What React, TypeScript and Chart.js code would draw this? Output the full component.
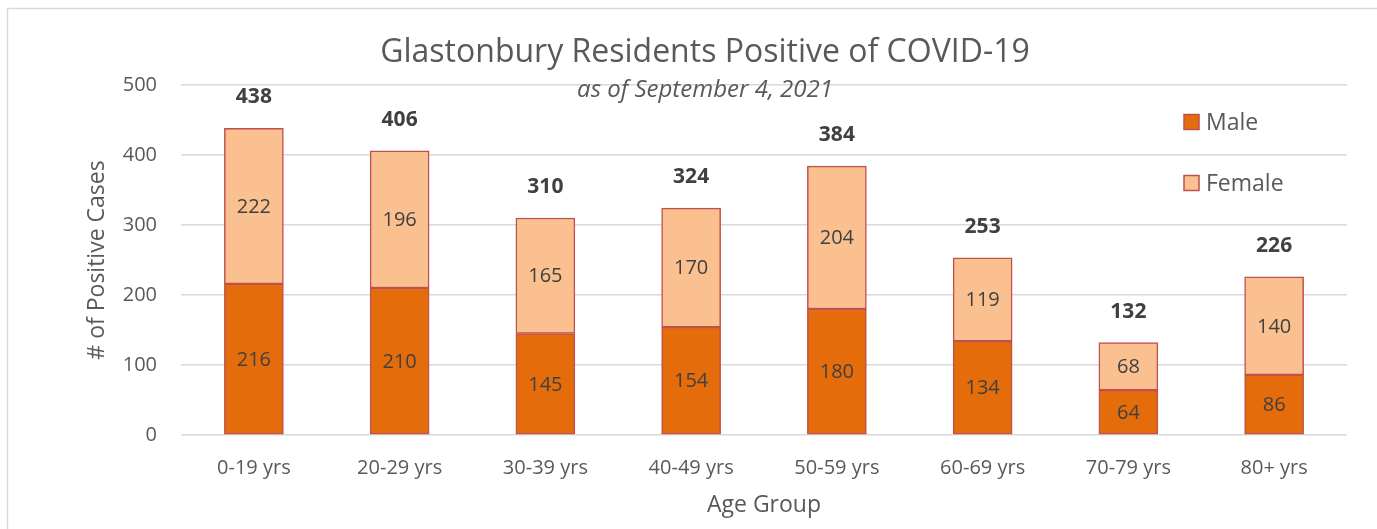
import React, { useEffect, useRef } from "react";
import { Chart, registerables } from "chart.js";

Chart.register(...registerables);

const categories = ["0-19 yrs", "20-29 yrs", "30-39 yrs", "40-49 yrs", "50-59 yrs", "60-69 yrs", "70-79 yrs", "80+ yrs"];
const maleValues = [216, 210, 145, 154, 180, 134, 64, 86];
const femaleValues = [222, 196, 165, 170, 204, 119, 68, 140];
const totalValues = [438, 406, 310, 324, 384, 253, 132, 226];
const yTicks = [0, 100, 200, 300, 400, 500];

const FONT = "'Open Sans', 'DejaVu Sans', sans-serif";
const MALE_COLOR = "#E46C0A";
const FEMALE_COLOR = "#FAC090";
const BORDER_COLOR = "#C0504D";
const TEXT_GREY = "#595959";
const LABEL_DARK = "#404040";

const overlayPlugin = {
  id: "overlay",
  beforeDraw(chart: any) {
    const { ctx } = chart;
    ctx.save();
    ctx.fillStyle = "#ffffff";
    ctx.fillRect(0, 0, chart.width, chart.height);
    ctx.strokeStyle = "#d9d9d9";
    ctx.lineWidth = 1.5;
    ctx.strokeRect(7.5, 8.5, chart.width + 20, chart.height + 20);
    ctx.restore();
  },
  afterDatasetsDraw(chart: any) {
    const { ctx } = chart;
    ctx.save();
    ctx.textAlign = "center";
    ctx.textBaseline = "middle";
    ctx.fillStyle = LABEL_DARK;
    ctx.font = `20px ${FONT}`;
    chart.data.datasets.forEach((ds: any, di: number) => {
      const meta = chart.getDatasetMeta(di);
      meta.data.forEach((el: any, i: number) => {
        const v = ds.data[i];
        const cy = (el.y + el.base) / 2;
        ctx.fillText(String(v), el.x, cy + 1);
      });
    });
    const topMeta = chart.getDatasetMeta(chart.data.datasets.length - 1);
    ctx.font = `bold 21px ${FONT}`;
    topMeta.data.forEach((el: any, i: number) => {
      ctx.fillText(String(totalValues[i]), el.x, el.y - 31);
    });
    ctx.restore();
  },
  afterDraw(chart: any) {
    const { ctx } = chart;
    ctx.save();
    ctx.fillStyle = TEXT_GREY;
    ctx.textAlign = "center";
    ctx.textBaseline = "middle";
    ctx.font = `32px ${FONT}`;
    ctx.fillText("Glastonbury Residents Positive of COVID-19", 705, 53);
    ctx.font = `italic 24px ${FONT}`;
    ctx.fillText("as of September 4, 2021", 705, 90);

    // legend
    const items = [
      { label: "Male", color: MALE_COLOR, y: 122 },
      { label: "Female", color: FEMALE_COLOR, y: 183 },
    ];
    ctx.textAlign = "left";
    ctx.font = `23px ${FONT}`;
    items.forEach((it) => {
      ctx.fillStyle = it.color;
      ctx.fillRect(1184, it.y - 7.5, 15, 15);
      ctx.strokeStyle = BORDER_COLOR;
      ctx.lineWidth = 1.5;
      ctx.strokeRect(1184, it.y - 7.5, 15, 15);
      ctx.fillStyle = TEXT_GREY;
      ctx.fillText(it.label, 1206, it.y + 1);
    });
    ctx.restore();
  },
};

export default function App() {
  const canvasRef = useRef<HTMLCanvasElement | null>(null);

  useEffect(() => {
    document.body.style.margin = "0";
    const canvas = canvasRef.current;
    if (!canvas) return;
    const chart = new Chart(canvas, {
      type: "bar",
      data: {
        labels: categories,
        datasets: [
          {
            label: "Male",
            data: maleValues,
            backgroundColor: MALE_COLOR,
            borderColor: BORDER_COLOR,
            borderWidth: 1.5,
            borderSkipped: false,
            barThickness: 59,
          },
          {
            label: "Female",
            data: femaleValues,
            backgroundColor: FEMALE_COLOR,
            borderColor: BORDER_COLOR,
            borderWidth: 1.5,
            borderSkipped: false,
            barThickness: 59,
          },
        ],
      },
      options: {
        responsive: false,
        animation: false,
        devicePixelRatio: 1,
        layout: { padding: { top: 85, right: 30, left: 0, bottom: 0 } },
        plugins: {
          legend: { display: false },
          title: { display: false },
          tooltip: { enabled: false },
        },
        scales: {
          x: {
            stacked: true,
            grid: { display: false },
            border: { display: false },
            ticks: { color: TEXT_GREY, font: { family: FONT, size: 20 }, padding: 13 },
            title: {
              display: true,
              text: "Age Group",
              color: TEXT_GREY,
              font: { family: FONT, size: 23 },
              padding: { top: 0, bottom: 10 },
            },
            afterFit(scale: any) {
              scale.height = 94;
            },
          },
          y: {
            stacked: true,
            min: 0,
            max: 500,
            afterBuildTicks(scale: any) {
              scale.ticks = yTicks.map((v) => ({ value: v }));
            },
            grid: { color: "#d9d9d9", lineWidth: 1.5, drawTicks: false },
            border: { display: false },
            ticks: { color: TEXT_GREY, font: { family: FONT, size: 20 }, padding: 24 },
            title: {
              display: true,
              text: "# of Positive Cases",
              color: TEXT_GREY,
              font: { family: FONT, size: 23 },
              padding: { top: 84, bottom: 0 },
            },
            afterFit(scale: any) {
              scale.width = 181;
            },
          },
        },
      },
      plugins: [overlayPlugin],
    } as any);
    return () => chart.destroy();
  }, []);

  return (
    <div style={{ position: "absolute", left: 0, top: 0, width: 1377, height: 529 }}>
      <canvas ref={canvasRef} width={1377} height={529} style={{ width: 1377, height: 529 }} />
    </div>
  );
}
